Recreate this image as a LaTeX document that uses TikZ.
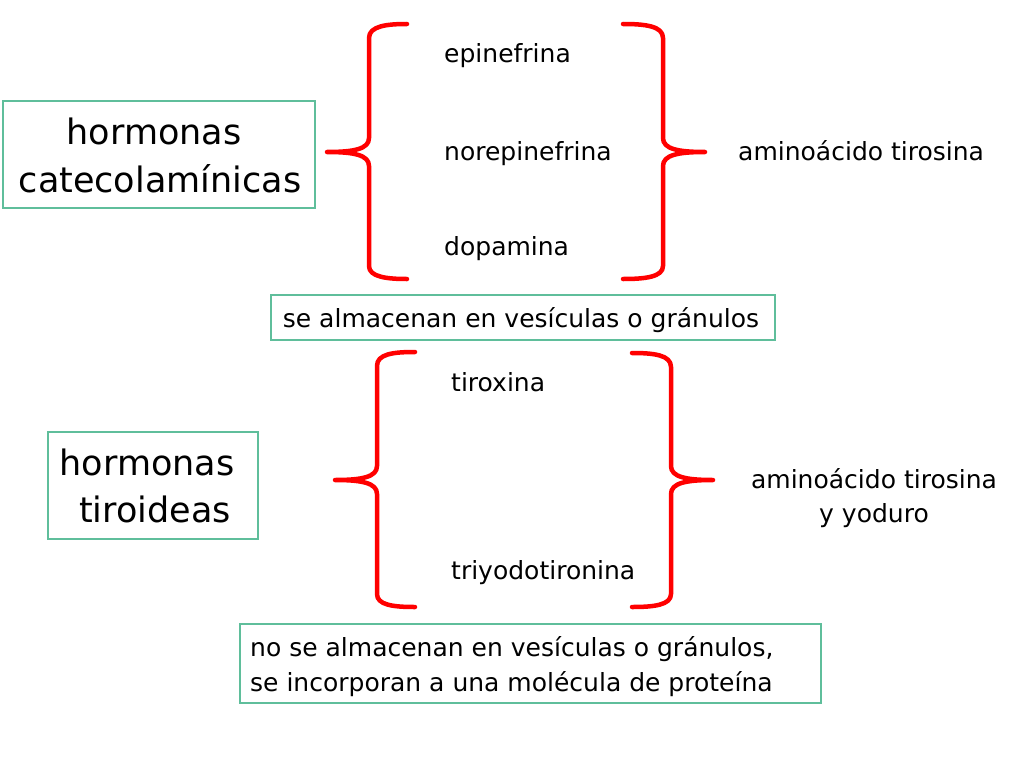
\documentclass[tikz,border=0pt]{standalone}
\usepackage{fontspec}
\setmainfont{DejaVu Sans}
\definecolor{boxgreen}{RGB}{95,190,155}
\definecolor{bracered}{RGB}{255,0,0}
\begin{document}
\begin{tikzpicture}[x=1pt,y=-1pt,
  box/.style={draw=boxgreen,line width=1.3pt,inner sep=0pt,fill=none},
  sm/.style={font=\fontsize{25}{30}\selectfont,inner sep=0pt,anchor=base west},
  smc/.style={font=\fontsize{25}{30}\selectfont,inner sep=0pt,anchor=base},
  big/.style={font=\fontsize{35}{42}\selectfont,inner sep=0pt,anchor=base},
  bracepath/.style={draw=bracered,line width=4.5pt,line cap=round,line join=round}]
\useasboundingbox[fill=white] (0,0) rectangle (1024,768);
% boxes
\node[box,minimum width=312pt,minimum height=107pt] (b1) at (159,154.5) {};
\node[box,minimum width=210pt,minimum height=107pt] (b2) at (153,485.5) {};
\node[box,minimum width=504pt,minimum height=45pt] (b3) at (523,317.5) {};
\node[box,minimum width=581pt,minimum height=79pt] (b4) at (530.5,663.5) {};
% big texts
\node[big] (t1a) at (154,144) {hormonas};
\node[big] (t1b) at (160,192) {catecolamínicas};
\node[big] (t2a) at (147,475) {hormonas};
\node[big] (t2b) at (155,522) {tiroideas};
% small texts
\node[sm] (epi) at (444,63) {epinefrina};
\node[sm] (nor) at (444,160) {norepinefrina};
\node[sm] (dop) at (444,255) {dopamina};
\node[sm] (am1) at (738,160) {aminoácido tirosina};
\node[sm] (tir) at (451,391) {tiroxina};
\node[sm] (tri) at (451,579) {triyodotironina};
\node[smc] (am2) at (874,488) {aminoácido tirosina};
\node[smc] (yod) at (874,522) {y yoduro};
\node[smc] (s3) at (521,327) {se almacenan en vesículas o gránulos};
\node[sm] (s4a) at (250,656) {no se almacenan en vesículas o gránulos,};
\node[sm] (s4b) at (250,691) {se incorporan a una molécula de proteína};
% braces
\path[bracepath] (407,24) .. controls (387,24) and (369,26) .. (369,38) -- (369,138)
  .. controls (369,149) and (354,152) .. (327,152)
  .. controls (354,152) and (369,155) .. (369,166) -- (369,266)
  .. controls (369,277) and (387,279) .. (407,279);
\path[bracepath] (623,24) .. controls (645,24) and (663,26) .. (663,38) -- (663,138)
  .. controls (663,149) and (678,152) .. (705,152)
  .. controls (678,152) and (663,155) .. (663,166) -- (663,266)
  .. controls (663,277) and (645,279) .. (623,279);
\path[bracepath] (415,352) .. controls (393,352) and (377,354) .. (377,366) -- (377,466)
  .. controls (377,477) and (362,480) .. (335,480)
  .. controls (362,480) and (377,483) .. (377,494) -- (377,594)
  .. controls (377,605) and (393,607) .. (415,607);
\path[bracepath] (632,353) .. controls (654,353) and (671,355) .. (671,367) -- (671,466)
  .. controls (671,477) and (686,480) .. (713,480)
  .. controls (686,480) and (671,483) .. (671,494) -- (671,594)
  .. controls (671,605) and (654,607) .. (632,607);
\end{tikzpicture}
\end{document}
